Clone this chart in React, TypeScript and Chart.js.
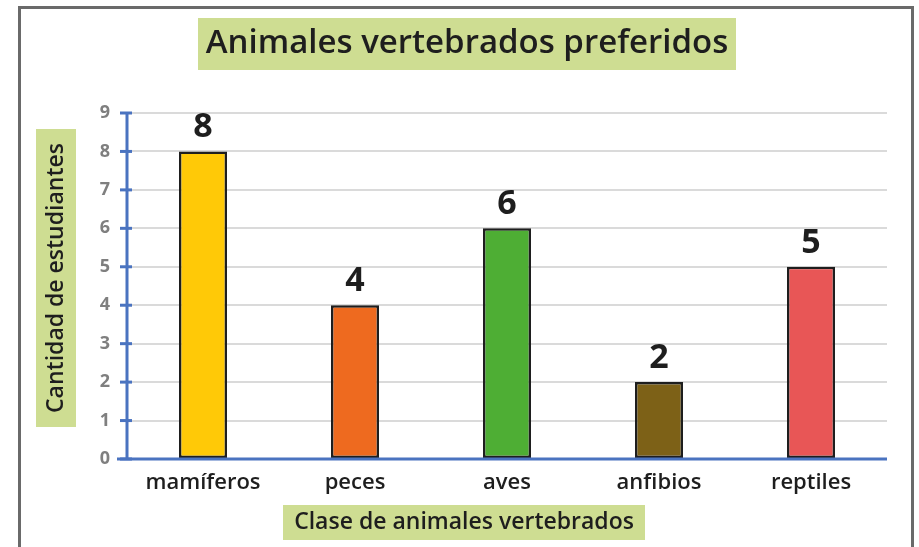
import { useEffect, useRef } from "react";
import { Chart, registerables } from "chart.js";

Chart.register(...registerables);

const categories = ["mamíferos", "peces", "aves", "anfibios", "reptiles"];
const values = [8, 4, 6, 2, 5];
const barColors = ["#FFC907", "#EE6A1F", "#4EAE34", "#7D6117", "#E85656"];
const yTickValues = [0, 1, 2, 3, 4, 5, 6, 7, 8, 9];
const titleText = "Animales vertebrados preferidos";
const xTitleText = "Clase de animales vertebrados";
const yTitleText = "Cantidad de estudiantes";

const FONT = "'Open Sans'";
const BOX = "#CEDD92";
const AXIS = "#4A73C0";
const INK = "#1E1E1E";

const decor = {
  id: "decor",
  beforeDraw(chart: any) {
    const ctx = chart.ctx;
    ctx.save();
    ctx.fillStyle = "#ffffff";
    ctx.fillRect(0, 0, chart.width, chart.height);
    ctx.restore();
  },
  afterDatasetsDraw(chart: any) {
    const { ctx, chartArea, scales } = chart;
    const y = scales.y;
    const top = y.getPixelForValue(9);
    const bottom = y.getPixelForValue(0);
    ctx.save();
    ctx.strokeStyle = AXIS;
    ctx.lineWidth = 3;
    ctx.beginPath();
    ctx.moveTo(chartArea.left, top - 1);
    ctx.lineTo(chartArea.left, bottom);
    ctx.stroke();
    ctx.beginPath();
    ctx.moveTo(chartArea.left - 10, bottom);
    ctx.lineTo(chartArea.right, bottom);
    ctx.stroke();
    yTickValues.forEach((v) => {
      const py = y.getPixelForValue(v);
      ctx.beginPath();
      ctx.moveTo(chartArea.left - 7, py);
      ctx.lineTo(chartArea.left + 5, py);
      ctx.stroke();
    });
    // value labels
    const meta = chart.getDatasetMeta(0);
    ctx.fillStyle = INK;
    ctx.font = `700 34px ${FONT}`;
    ctx.textAlign = "center";
    ctx.textBaseline = "alphabetic";
    meta.data.forEach((bar: any, i: number) => {
      ctx.fillText(String(values[i]), bar.x, bar.y - 14);
    });
    ctx.restore();
  },
  afterDraw(chart: any) {
    const ctx = chart.ctx;
    ctx.save();
    // outer border
    ctx.strokeStyle = "#6A6A6A";
    ctx.lineWidth = 3;
    ctx.strokeRect(19.5, 7.5, 893, 600);
    // title box
    ctx.fillStyle = BOX;
    ctx.fillRect(198, 18, 538, 52);
    ctx.fillStyle = INK;
    ctx.font = `600 33px ${FONT}`;
    ctx.textAlign = "center";
    ctx.textBaseline = "middle";
    ctx.fillText(titleText, 467, 44);
    // x title box
    ctx.fillStyle = BOX;
    ctx.fillRect(283, 505, 362, 35);
    ctx.fillStyle = INK;
    ctx.font = `600 23px ${FONT}`;
    ctx.fillText(xTitleText, 464, 522);
    // y title box
    ctx.fillStyle = BOX;
    ctx.fillRect(36, 129, 40, 298);
    ctx.translate(56, 278);
    ctx.rotate(-Math.PI / 2);
    ctx.fillStyle = INK;
    ctx.font = `600 23px ${FONT}`;
    ctx.fillText(yTitleText, 0, 0);
    ctx.restore();
  },
};

export default function App() {
  const ref = useRef<HTMLCanvasElement>(null);
  useEffect(() => {
    if (!ref.current) return;
    const chart = new Chart(ref.current, {
      type: "bar",
      data: {
        labels: categories,
        datasets: [
          {
            data: values,
            backgroundColor: barColors,
            borderColor: "#1E1E1E",
            borderWidth: 2.5,
            borderSkipped: false,
            barPercentage: 0.316,
            categoryPercentage: 1,
          },
        ],
      },
      options: {
        responsive: false,
        animation: false,
        layout: { padding: { top: 113, right: 32, bottom: 0, left: 0 } },
        plugins: {
          legend: { display: false },
          title: { display: false },
          tooltip: { enabled: false },
        },
        scales: {
          x: {
            grid: { display: false, drawTicks: false },
            border: { display: false },
            ticks: {
              color: INK,
              font: { family: FONT, size: 22, weight: "600" },
              padding: 11,
            },
            afterFit: (s: any) => {
              s.height = 88;
            },
          },
          y: {
            min: 0,
            max: 9,
            ticks: {
              stepSize: 1,
              color: "#7F7F7F",
              font: { family: FONT, size: 18, weight: "700" },
              padding: 17,
            },
            grid: { color: "#DADADA", lineWidth: 2, drawTicks: false },
            border: { display: false },
            afterFit: (s: any) => {
              s.width = 127;
            },
          },
        },
      },
      plugins: [decor],
    } as any);
    return () => chart.destroy();
  }, []);
  return (
    <div style={{ position: "fixed", left: 0, top: 0, width: 919, height: 547 }}>
      <canvas ref={ref} width={919} height={547} style={{ display: "block" }} />
    </div>
  );
}
